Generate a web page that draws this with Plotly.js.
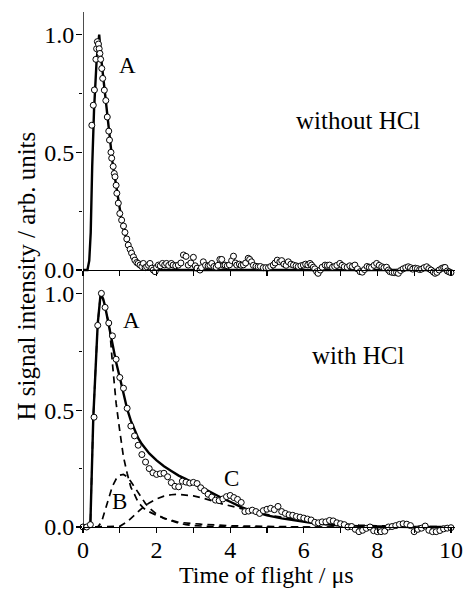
<!DOCTYPE html>
<html>
<head>
<meta charset="utf-8">
<script src="https://cdn.plot.ly/plotly-3.0.1.min.js"></script>
<style>
  html, body { margin: 0; padding: 0; background: #fff; }
  #chart { width: 466px; height: 589px; }
</style>
</head>
<body>
<div id="chart"></div>
<script>
// ---- upper panel: H signal without HCl (time in µs, intensity normalised) ----
var tTop = [
  0.24,0.28,0.31,0.35,0.37,0.39,0.42,0.44,0.46,0.48,
  0.51,0.535,0.58,0.62,0.66,0.70,0.72,0.76,0.78,0.82,
  0.85,0.87,0.90,0.92,0.96,1.00,1.05,1.10,1.14,1.19,
  1.23,1.28,1.32,1.37,1.41,1.46,1.50,1.55,1.60,1.64,
  1.69,1.73,1.78,1.82,1.87,1.91,1.96,2.00,2.05,2.10,
  2.16,2.22,2.27,2.33,2.40,2.45,2.52,2.59,2.66,2.73,
  2.80,2.86,2.93,3.00,3.05,3.10,3.18,3.22,3.27,3.33,
  3.40,3.45,3.50,3.56,3.62,3.67,3.72,3.77,3.82,3.86,
  3.92,3.98,4.04,4.09,4.14,4.18,4.25,4.30,4.36,4.42,
  4.49,4.53,4.58,4.63,4.70,4.76,4.82,4.90,4.97,5.04,
  5.10,5.17,5.22,5.28,5.35,5.40,5.46,5.52,5.58,5.65,
  5.72,5.79,5.85,5.92,5.99,6.05,6.11,6.17,6.21,6.26,
  6.30,6.35,6.39,6.45,6.50,6.58,6.64,6.70,6.78,6.84,
  6.90,6.98,7.04,7.10,7.18,7.25,7.32,7.39,7.46,7.53,
  7.59,7.65,7.72,7.78,7.84,7.91,7.98,8.05,8.12,8.18,
  8.25,8.30,8.34,8.40,8.46,8.52,8.57,8.63,8.70,8.77,
  8.84,8.90,8.96,9.03,9.09,9.15,9.20,9.27,9.34,9.40,
  9.46,9.52,9.57,9.62,9.68,9.75,9.80,9.84,9.90,9.95,10.00
];
var sigTop = [
  0.615,0.700,0.765,0.895,0.940,0.970,0.960,0.940,0.920,0.895,
  0.856,0.814,0.764,0.720,0.650,0.590,0.552,0.500,0.475,0.440,
  0.410,0.396,0.360,0.326,0.284,0.240,0.212,0.187,0.160,0.132,
  0.106,0.088,0.072,0.056,0.042,0.032,0.028,0.021,0.015,0.028,
  0.010,0.014,0.020,0.028,0.008,0.000,-0.007,0.012,0.021,0.018,
  0.028,0.022,0.028,0.020,0.028,0.021,0.018,0.021,0.030,0.064,
  0.058,0.021,0.030,0.054,0.018,0.008,0.000,0.010,0.035,0.020,
  0.018,0.020,0.028,0.015,0.012,0.020,0.045,0.045,0.020,0.021,
  0.018,0.022,0.040,0.059,0.030,0.021,0.025,0.020,0.022,0.030,
  0.050,0.045,0.035,0.020,0.016,0.014,0.015,0.010,0.010,0.010,
  0.015,0.021,0.030,0.042,0.035,0.040,0.025,0.020,0.035,0.025,
  0.021,0.018,0.015,0.018,0.021,0.025,0.022,0.028,0.021,0.012,
  0.005,-0.007,-0.014,0.000,0.012,0.021,0.020,0.021,0.012,0.015,
  0.020,0.028,0.020,0.014,0.012,0.018,0.015,0.021,0.005,-0.007,
  -0.009,0.002,0.015,0.012,0.011,0.020,0.028,0.020,0.014,0.010,
  0.012,0.000,-0.007,-0.010,-0.011,-0.010,-0.014,-0.002,0.005,0.010,
  0.014,0.010,0.004,0.008,0.006,0.002,0.004,0.010,0.014,0.006,
  0.000,-0.008,-0.014,-0.010,0.000,0.007,0.010,0.011,-0.004,-0.008,-0.011
];
// fitted curve, upper panel
var tFitTop = [0,0.12,0.17,0.21,0.25,0.30,0.37,0.44,0.50,0.55,0.60,0.65,0.70,0.75,0.80,0.85,0.90,0.95,1.00,1.05,1.10,1.15,1.20,1.25,1.30,1.35,1.40,1.50,1.60,1.70,1.80,1.90,2.00,10.0];
var fitTop  = [0,0,0.04,0.16,0.44,0.68,0.89,1.00,0.89,0.82,0.75,0.67,0.595,0.52,0.46,0.41,0.355,0.30,0.25,0.21,0.175,0.148,0.123,0.10,0.08,0.063,0.05,0.03,0.018,0.01,0.005,0.002,0,0];

// ---- lower panel: H signal with HCl ----
var tBot = [
  0.0,0.1,0.2,0.3,0.4,0.5,0.6,0.7,0.8,0.9,
  1.0,1.1,1.2,1.3,1.4,1.5,1.6,1.7,1.8,1.9,
  2.0,2.1,2.2,2.3,2.4,2.5,2.6,2.7,2.8,2.9,
  3.0,3.1,3.2,3.3,3.4,3.5,3.6,3.7,3.8,3.9,
  4.0,4.1,4.2,4.3,4.4,4.5,4.6,4.7,4.8,4.9,
  5.0,5.1,5.2,5.3,5.4,5.5,5.6,5.7,5.8,5.9,
  6.0,6.1,6.2,6.3,6.4,6.5,6.6,6.7,6.8,6.9,
  7.0,7.1,7.2,7.3,7.4,7.5,7.6,7.7,7.8,7.9,
  8.0,8.1,8.2,8.3,8.4,8.5,8.6,8.7,8.8,8.9,
  9.0,9.1,9.2,9.3,9.4,9.5,9.6,9.7,9.8,9.9,10.0
];
var sigBot = [
  0.000,0.000,0.010,0.470,0.863,1.000,0.940,0.873,0.818,0.718,
  0.640,0.594,0.508,0.432,0.390,0.350,0.310,0.278,0.250,0.232,
  0.225,0.228,0.230,0.215,0.190,0.174,0.172,0.196,0.192,0.188,
  0.191,0.186,0.168,0.155,0.140,0.128,0.115,0.113,0.120,0.130,
  0.135,0.126,0.118,0.105,0.066,0.068,0.072,0.066,0.058,0.070,
  0.076,0.080,0.074,0.088,0.066,0.058,0.052,0.050,0.045,0.042,
  0.038,0.034,0.030,0.020,0.018,0.022,0.022,0.028,0.026,0.018,
  0.014,0.010,0.000,0.002,-0.010,-0.020,-0.014,-0.006,0.000,-0.016,
  -0.020,-0.020,-0.018,0.000,0.002,0.006,0.011,0.014,0.012,0.006,
  -0.020,-0.010,-0.005,0.004,-0.014,-0.020,-0.020,-0.015,-0.008,-0.005,-0.003
];
// total fit, lower panel
var tFitBot = [0,0.1,0.2,0.28,0.4,0.48,0.55,0.6,0.7,0.8,0.9,1.0,1.1,1.2,1.3,1.4,1.5,1.6,1.8,2.0,2.2,2.4,2.6,2.8,3.0,3.2,3.4,3.6,3.8,4.0,4.3,4.6,5.0,5.4,5.8,6.2,6.6,7.0,7.5,8.0,9.0,10.0];
var fitBot  = [0,0,0.01,0.47,0.87,1.0,0.975,0.945,0.865,0.78,0.705,0.64,0.575,0.505,0.455,0.415,0.38,0.355,0.315,0.285,0.26,0.24,0.22,0.205,0.187,0.17,0.155,0.138,0.122,0.108,0.085,0.068,0.05,0.037,0.027,0.018,0.011,0.006,0.003,0.001,0,0];
// fit components A, B, C
var tA = [0,0.1,0.2,0.28,0.4,0.48,0.55,0.6,0.65,0.72,0.8,0.9,1.0,1.1,1.2,1.3,1.4,1.5,1.65,1.8,2.0,2.2,2.6,3.2,4.0,5.0,6.0,10.0];
var compA = [0,0,0.01,0.47,0.87,1.0,0.97,0.94,0.91,0.86,0.70,0.53,0.41,0.30,0.23,0.17,0.14,0.105,0.08,0.065,0.05,0.038,0.02,0.012,0.005,0.002,0,0];
var tB = [0,0.4,0.5,0.6,0.7,0.8,0.9,1.0,1.1,1.2,1.3,1.4,1.5,1.6,1.7,1.8,2.0,2.2,2.4,2.6,2.8,3.0,3.5,4.0,10.0];
var compB = [0,0,0.02,0.07,0.13,0.175,0.205,0.222,0.225,0.215,0.195,0.17,0.145,0.12,0.10,0.082,0.055,0.037,0.025,0.016,0.01,0.006,0.002,0,0];
var tC = [0,0.9,1.0,1.2,1.4,1.6,1.8,2.0,2.2,2.4,2.6,2.8,3.0,3.2,3.4,3.6,3.8,4.0,4.4,4.8,5.2,5.6,6.0,6.5,7.0,7.5,8.0,9.0,10.0];
var compC = [0,0,0.003,0.022,0.05,0.08,0.103,0.12,0.132,0.138,0.14,0.138,0.133,0.126,0.118,0.108,0.098,0.09,0.074,0.06,0.047,0.037,0.028,0.02,0.013,0.008,0.005,0.002,0.001];

var yTicks = [0, 0.5, 1.0];
var yTickText = ['0.0', '0.5', '1.0'];
var yMinor = [0.25, 0.75];
var xTicks = [0, 2, 4, 6, 8, 10];

var FONT = '"Liberation Serif", "Times New Roman", Times, serif';
var dashStyle = { color: '#000', width: 1.7, dash: '7px,5px' };
var fitStyle = { color: '#000', width: 2.4 };
var markerStyle = { symbol: 'circle', size: 6, color: '#fff', line: { color: '#000', width: 1 } };

var traces = [
  // upper panel
  { x: tFitTop, y: fitTop, xaxis: 'x2', yaxis: 'y2', mode: 'lines', line: fitStyle },
  { x: tTop, y: sigTop, xaxis: 'x2', yaxis: 'y2', mode: 'markers', marker: markerStyle, cliponaxis: false },
  // lower panel
  { x: tA, y: compA, mode: 'lines', line: dashStyle },
  { x: tB, y: compB, mode: 'lines', line: dashStyle },
  { x: tC, y: compC, mode: 'lines', line: dashStyle },
  { x: tFitBot, y: fitBot, mode: 'lines', line: fitStyle },
  { x: tBot, y: sigBot, mode: 'markers', marker: markerStyle, cliponaxis: false }
];

// plot area: y from 12 px to 534 px (height 522)
var PLOT_H = 522;
function paperY(px) { return (534 - px) / PLOT_H; }

var tickCommon = {
  ticks: 'outside', tickcolor: '#000', tickwidth: 1.2, ticklen: 5,
  showgrid: false, zeroline: false,
  tickfont: { family: FONT, size: 24, color: '#000' }
};
var xCommon = Object.assign({}, tickCommon, {
  range: [0, 10.11], showline: true, linecolor: '#000', linewidth: 1.4, anchor: 'free'
});
var yCommon = Object.assign({}, tickCommon, {
  showline: false, tickvals: yTicks, ticktext: yTickText, ticklen: 6,
  ticklabelstandoff: -3,
  minor: { tickvals: yMinor, ticks: 'outside', ticklen: 3, tickwidth: 1.2, tickcolor: '#000' }
});

var layout = {
  width: 466, height: 589,
  margin: { l: 83, r: 11, t: 12, b: 55 },
  paper_bgcolor: '#fff', plot_bgcolor: 'rgba(0,0,0,0)',
  showlegend: false,
  font: { family: FONT, color: '#000' },
  xaxis: Object.assign({}, xCommon, {
    position: paperY(527), ticklabelstandoff: -4,
    tickvals: xTicks, ticktext: xTicks.map(String),
    minor: { dtick: 1, ticks: 'outside', ticklen: 5, tickwidth: 1.2, tickcolor: '#000' }
  }),
  xaxis2: Object.assign({}, xCommon, {
    position: paperY(270), matches: 'x', showticklabels: false, dtick: 1
  }),
  yaxis: Object.assign({}, yCommon, {
    domain: [0, paperY(270)], range: [-0.03, 1.10], anchor: 'x'
  }),
  yaxis2: Object.assign({}, yCommon, {
    domain: [paperY(277.1), 1], range: [-0.03, 1.096], anchor: 'x2'
  }),
  shapes: [
    // vertical axis line running from the lower baseline to the top of the frame
    { type: 'line', xref: 'x', yref: 'paper', x0: 0, x1: 0, y0: paperY(527), y1: 1,
      line: { color: '#000', width: 1.4 } }
  ],
  annotations: [
    { text: 'H signal intensity / arb. units', xref: 'paper', yref: 'paper', x: -0.153, y: paperY(276.5),
      textangle: -90, showarrow: false, xanchor: 'center', yanchor: 'middle',
      font: { family: FONT, size: 25, color: '#000' } },
    { text: 'Time of flight / \u03bcs', xref: 'paper', yref: 'paper', x: 0.493, y: paperY(574.5),
      showarrow: false, xanchor: 'center', yanchor: 'middle',
      font: { family: FONT, size: 24, color: '#000' } },
    { text: 'A', xref: 'x2', yref: 'y2', x: 1.21, y: 0.87, showarrow: false,
      font: { family: FONT, size: 23, color: '#000' } },
    { text: 'without HCl', xref: 'x2', yref: 'y2', x: 7.47, y: 0.637, showarrow: false,
      font: { family: FONT, size: 25, color: '#000' } },
    { text: 'A', xref: 'x', yref: 'y', x: 1.32, y: 0.883, showarrow: false,
      font: { family: FONT, size: 23, color: '#000' } },
    { text: 'with HCl', xref: 'x', yref: 'y', x: 7.47, y: 0.736, showarrow: false,
      font: { family: FONT, size: 25, color: '#000' } },
    { text: 'B', xref: 'x', yref: 'y', x: 1.0, y: 0.111, showarrow: false,
      font: { family: FONT, size: 23, color: '#000' } },
    { text: 'C', xref: 'x', yref: 'y', x: 4.04, y: 0.207, showarrow: false,
      font: { family: FONT, size: 23, color: '#000' } }
  ]
};

Plotly.newPlot('chart', traces, layout, { staticPlot: true, displayModeBar: false });
</script>
</body>
</html>
